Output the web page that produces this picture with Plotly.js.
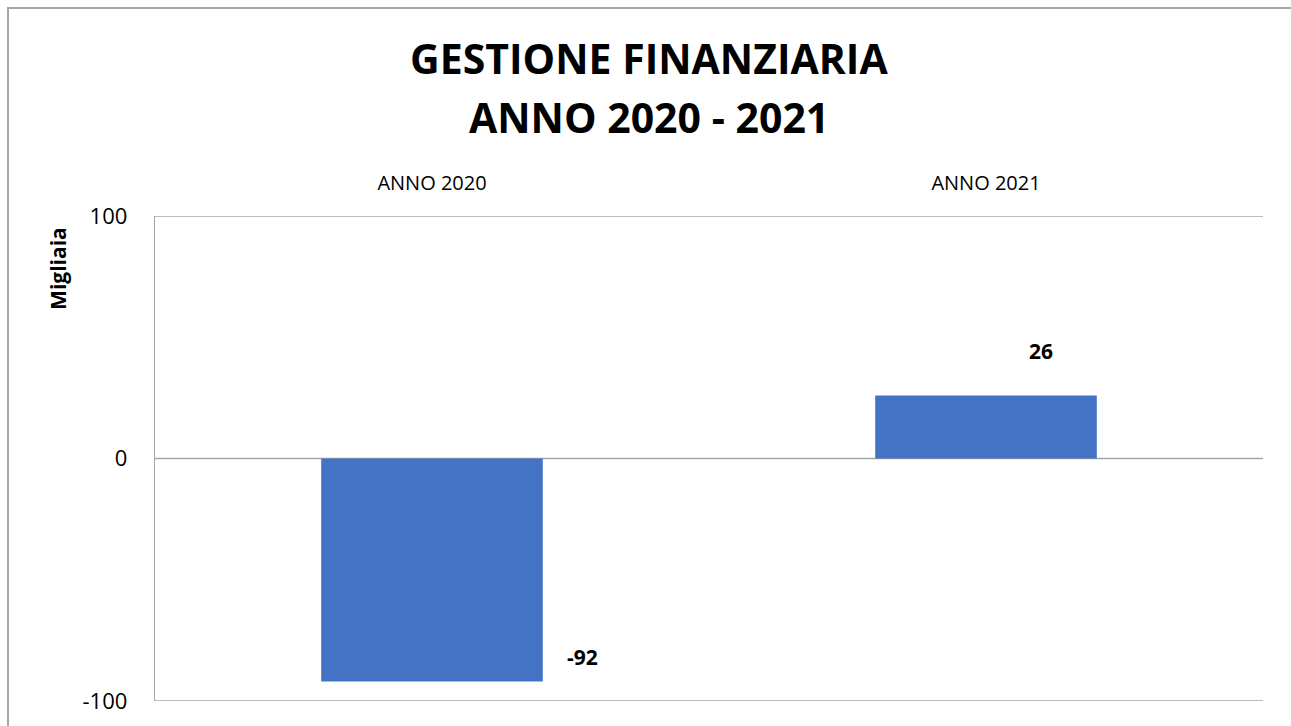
<!DOCTYPE html>
<html><head><meta charset="utf-8">
<script src="https://cdn.plot.ly/plotly-3.0.1.min.js"></script>
<style>
html,body{margin:0;padding:0;background:#fff;overflow:hidden;width:1291px;height:726px}
.edge{position:absolute;background:#a6a6a6;pointer-events:none;z-index:5}
#edgeTop{left:7px;top:7px;width:1284px;height:2px}
#edgeLeft{left:7px;top:7px;width:2px;height:719px}
#chart{position:absolute;left:0;top:0;width:1291px;height:726px}
</style></head>
<body>
<div id="chart"></div><div class="edge" id="edgeTop"></div><div class="edge" id="edgeLeft"></div>
<script>
var categories = ["ANNO 2020", "ANNO 2021"];
var values = [-92, 26];
var labels = ["-92", "26"];
var yTicks = [-100, 0, 100];
var titleLines = ["GESTIONE FINANZIARIA", "ANNO 2020 - 2021"];
var yTitle = "Migliaia";

var FONT = "Open Sans, Liberation Sans, sans-serif";
var GRID = "#a6a6a6";

var trace = {
  type: "bar",
  x: categories,
  y: values,
  width: 0.4,
  marker: {color: "#4472C4"},
  hoverinfo: "skip"
};

var annShift = [[150, 25], [55, 44]];
var annotations = categories.map(function(c, i){
  return {x: c, y: values[i], xref: "x", yref: "y", text: "<b>" + labels[i] + "</b>",
    showarrow: false, xshift: annShift[i][0], yshift: annShift[i][1],
    font: {family: FONT, size: 21, color: "#000"}};
});
annotations.push({xref: "paper", yref: "paper", x: -0.0875, y: 0.891, text: "<b>" + yTitle + "</b>",
  textangle: -90, showarrow: false, xanchor: "center", yanchor: "middle",
  font: {family: FONT, size: 21, color: "#000"}});
var titleY = [1.325, 1.205];
titleLines.forEach(function(t, i){
  annotations.push({xref: "paper", yref: "paper", x: 0.446, y: titleY[i], text: "<b>" + t + "</b>",
    showarrow: false, xanchor: "center", yanchor: "middle",
    font: {family: FONT, size: 41, color: "#000"}});
});

var shapes = yTicks.map(function(v){
  return {type: "line", xref: "paper", yref: "y", x0: 0, x1: 1, y0: v, y1: v,
    line: {color: GRID, width: 1.3}, layer: "below"};
});

var layout = {
  width: 1291, height: 726,
  margin: {l: 155, r: 28, t: 216, b: 25},
  paper_bgcolor: "#fff", plot_bgcolor: "#fff",
  showlegend: false,
  xaxis: {side: "top", type: "category", showgrid: false, zeroline: false, showline: false,
    ticks: "", ticklabelstandoff: 21, tickfont: {family: FONT, size: 20, color: "#000"}},
  yaxis: {range: [-100, 100], tickvals: yTicks, ticktext: yTicks.map(String), showgrid: false,
    zeroline: false, showline: true, linecolor: GRID, linewidth: 1.3,
    ticks: "", ticklabelstandoff: 22, tickfont: {family: FONT, size: 22, color: "#000"}},
  shapes: shapes,
  annotations: annotations
};

Plotly.newPlot("chart", [trace], layout, {displayModeBar: false, staticPlot: true});
</script>
</body></html>
